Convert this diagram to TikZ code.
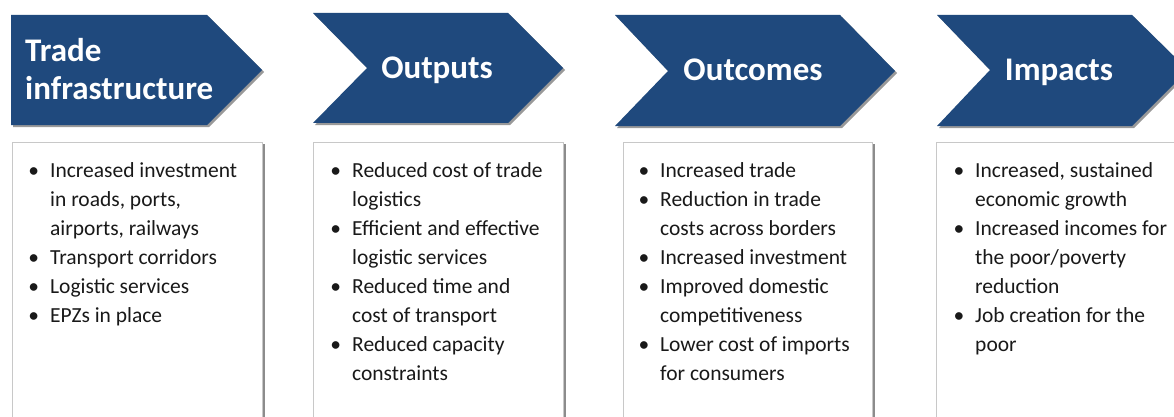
\documentclass[tikz,border=0pt]{standalone}
\usepackage{fontspec}
\setmainfont{Carlito}
\definecolor{chev}{HTML}{1F497D}
\definecolor{frame}{HTML}{C8C8C8}
\newcommand\bl{\llap{\textbullet\hspace{11pt}}}
\begin{document}
\begin{tikzpicture}[x=1pt,y=-1pt,
  chevfill/.style={fill=chev, draw=none},
  chevshadow/.style={fill=black!40, draw=none},
  boxshadow/.style={fill=black!45, draw=none},
  boxframe/.style={fill=white, draw=frame, line width=1pt},
  title/.style={text=white, font=\fontsize{33}{38}\selectfont\bfseries, inner sep=0pt},
  listtext/.style={text=black!90, font=\fontsize{21.5}{29}\selectfont, inner sep=0pt, anchor=base west}]
\useasboundingbox (0,0) rectangle (1174,417);
\clip (0,0) rectangle (1174,417);
\fill[white] (0,0) rectangle (1174,417);

% chevrons: shadows
\begin{scope}[shift={(2,2)}]
\fill[chevshadow] (11,15) -- (207,15) -- (262,70) -- (207,125) -- (11,125) -- cycle;
\fill[chevshadow] (313,13) -- (508,13) -- (563,68) -- (508,123) -- (313,123) -- (367,68) -- cycle;
\fill[chevshadow] (615,15) -- (840,15) -- (895,71) -- (840,126) -- (615,126) -- (668,71) -- cycle;
\fill[chevshadow] (937,15) -- (1132,15) -- (1188,70) -- (1132,126) -- (937,126) -- (990,70) -- cycle;
\end{scope}
% chevrons
\fill[chevfill] (11,15) -- (207,15) -- (262,70) -- (207,125) -- (11,125) -- cycle;
\fill[chevfill] (313,13) -- (508,13) -- (563,68) -- (508,123) -- (313,123) -- (367,68) -- cycle;
\fill[chevfill] (615,15) -- (840,15) -- (895,71) -- (840,126) -- (615,126) -- (668,71) -- cycle;
\fill[chevfill] (937,15) -- (1132,15) -- (1188,70) -- (1132,126) -- (937,126) -- (990,70) -- cycle;

% titles
\node[title, anchor=base west] (t1) at (25,62) {\begin{tabular}[t]{@{}l@{}}Trade\\infrastructure\end{tabular}};
\node[title, anchor=base] (t2) at (437,79) {Outputs};
\node[title, anchor=base] (t3) at (753,81) {Outcomes};
\node[title, anchor=base] (t4) at (1059,81) {Impacts};

% boxes
\fill[boxshadow] (14,144) rectangle (265,430);
\fill[boxshadow] (315,144) rectangle (566,430);
\fill[boxshadow] (625,144) rectangle (875,430);
\fill[boxshadow] (938,144) rectangle (1189,430);
\draw[boxframe] (12,142) rectangle (262,430);
\draw[boxframe] (313,142) rectangle (563,430);
\draw[boxframe] (623,142) rectangle (872,430);
\draw[boxframe] (936,142) rectangle (1186,430);

% lists
\node[listtext] (l1) at (50,177) {\begin{tabular}[t]{@{}l@{}}
\bl Increased investment\\
in roads, ports,\\
airports, railways\\
\bl Transport corridors\\
\bl Logistic services\\
\bl EPZs in place
\end{tabular}};
\node[listtext] (l2) at (352,177) {\begin{tabular}[t]{@{}l@{}}
\bl Reduced cost of trade\\
logistics\\
\bl Efficient and effective\\
logistic services\\
\bl Reduced time and\\
cost of transport\\
\bl Reduced capacity\\
constraints
\end{tabular}};
\node[listtext] (l3) at (660,177) {\begin{tabular}[t]{@{}l@{}}
\bl Increased trade\\
\bl Reduction in trade\\
costs across borders\\
\bl Increased investment\\
\bl Improved domestic\\
competitiveness\\
\bl Lower cost of imports\\
for consumers
\end{tabular}};
\node[listtext] (l4) at (975,177) {\begin{tabular}[t]{@{}l@{}}
\bl Increased, sustained\\
economic growth\\
\bl Increased incomes for\\
the poor/poverty\\
reduction\\
\bl Job creation for the\\
poor
\end{tabular}};
\end{tikzpicture}
\end{document}
